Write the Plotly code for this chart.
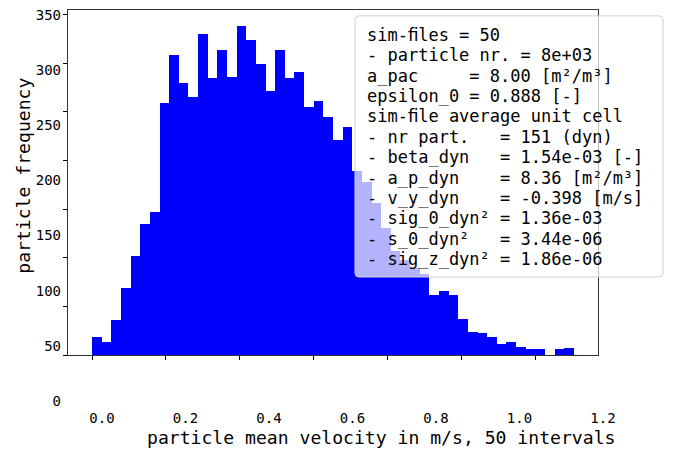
import numpy as np
import plotly.graph_objects as go

# ---------------- data ----------------
counts = [19, 14, 37, 70, 102, 135, 148, 259, 309, 280,
          266, 330, 285, 314, 286, 338, 324, 299, 272, 314,
          285, 291, 255, 262, 245, 221, 235, 190, 178, 157,
          131, 108, 98, 90, 84, 62, 66, 62, 38, 24,
          23, 19, 12, 14, 9, 7, 7, 0, 7, 8]
v_min, v_max = 0.0, 1.304
n_bins = 50
x_tick_vals = [0.0, 0.2, 0.4, 0.6, 0.8, 1.0, 1.2]
y_tick_vals = [0, 50, 100, 150, 200, 250, 300, 350]
x_title = "particle mean velocity in m/s, 50 intervals"
y_title = "particle frequency"
legend_lines = [
    "sim-ﬁles = 50",
    "- particle nr. = 8e+03",
    "a_pac     = 8.00 [m²/m³]",
    "epsilon_0 = 0.888 [-]",
    "sim-ﬁle average unit cell",
    "- nr part.   = 151 (dyn)",
    "- beta_dyn   = 1.54e-03 [-]",
    "- a_p_dyn    = 8.36 [m²/m³]",
    "- v_y_dyn    = -0.398 [m/s]",
    "- sig_0_dyn² = 1.36e-03",
    "- s_0_dyn²   = 3.44e-06",
    "- sig_z_dyn² = 1.86e-06",
]

edges = np.linspace(v_min, v_max, n_bins + 1)
centers = (edges[:-1] + edges[1:]) / 2
bw = edges[1] - edges[0]
span = v_max - v_min

# ---------------- layout helpers (pixels -> paper) ----------------
W, H = 680, 453
ML, MR, MT, MB = 40, 40, 0, 40
PW, PH = W - ML - MR, H - MT - MB

def fx(px):
    return (px - ML) / PW

def fy(py):
    return (H - MB - py) / PH

FONT = "DejaVu Sans Mono"

fig = go.Figure()
fig.add_trace(go.Bar(x=centers, y=counts, width=bw,
                     marker=dict(color="#0000ff", line=dict(width=0)),
                     showlegend=False, hoverinfo="skip"))
# invisible trace carrying the label axes
fig.add_trace(go.Scatter(x=[None], y=[None], xaxis="x2", yaxis="y2",
                         showlegend=False, hoverinfo="skip"))

# label axes (displaced tick labels)
ax = (603 - 102) / (x_tick_vals[-1] - x_tick_vals[0])
x2_range = [-0.02, 1.22]
x2_dom = [fx(102 + (x2_range[0] - x_tick_vals[0]) * ax),
          fx(102 + (x2_range[1] - x_tick_vals[0]) * ax)]
by = (401 - 12) / (y_tick_vals[-1] - y_tick_vals[0])
y2_range = [-5, 355]
y2_dom = [fy(401 + (y_tick_vals[0] - y2_range[0]) * by),
          fy(12 - (y2_range[1] - y_tick_vals[-1]) * by)]

# legend box (rounded rectangle) in paper coords
bx0, by0, bx1, by1, r = fx(355), fy(276), fx(663), fy(13), 4
rx, ry = r / PW, r / PH
box_path = (f"M {bx0+rx},{by0} L {bx1-rx},{by0} Q {bx1},{by0} {bx1},{by0+ry} "
            f"L {bx1},{by1-ry} Q {bx1},{by1} {bx1-rx},{by1} "
            f"L {bx0+rx},{by1} Q {bx0},{by1} {bx0},{by1-ry} "
            f"L {bx0},{by0+ry} Q {bx0},{by0} {bx0+rx},{by0} Z")

annotations = [
    dict(text=x_title, xref="paper", yref="paper",
         x=fx(380.5), y=fy(438), xanchor="center", yanchor="middle",
         showarrow=False, font=dict(family=FONT, size=18.1, color="black")),
    dict(text=y_title, xref="paper", yref="paper",
         x=fx(24), y=fy(174), xanchor="center", yanchor="middle",
         textangle=-90,
         showarrow=False, font=dict(family=FONT, size=18.1, color="black")),
]
for i, line in enumerate(legend_lines):
    annotations.append(dict(
        text=line.replace(" ", "\u00a0"), xref="paper", yref="paper",
        x=fx(365), y=fy(32 + 20.55 * i), xanchor="left", yanchor="middle",
        align="left", showarrow=False,
        font=dict(family=FONT, size=17, color="black")))

fig.update_layout(
    width=W, height=H,
    margin=dict(l=ML, r=MR, t=MT, b=MB),
    paper_bgcolor="white", plot_bgcolor="rgba(0,0,0,0)",
    bargap=0,
    xaxis=dict(domain=[fx(68), fx(598)],
               range=[v_min - 0.05 * span, v_max + 0.05 * span],
               tickvals=x_tick_vals, ticks="outside", ticklen=4,
               tickcolor="black", showticklabels=False,
               showgrid=False, zeroline=False,
               showline=True, linecolor="#333", linewidth=1, mirror=True),
    yaxis=dict(domain=[fy(355), fy(6.7)],
               range=[0, 1.05 * max(counts)],
               tickvals=y_tick_vals, ticks="outside", ticklen=4,
               tickcolor="black", showticklabels=False,
               showgrid=False, zeroline=False,
               showline=True, linecolor="#333", linewidth=1, mirror=True),
    xaxis2=dict(domain=x2_dom, range=x2_range, anchor="free",
                position=fy(408), tickvals=x_tick_vals, tickformat=".1f",
                ticks="", showline=False, showgrid=False, zeroline=False,
                tickfont=dict(family=FONT, size=14, color="black")),
    yaxis2=dict(domain=y2_dom, range=y2_range, anchor="free",
                position=fx(61), tickvals=y_tick_vals,
                ticks="", showline=False, showgrid=False, zeroline=False,
                tickfont=dict(family=FONT, size=14, color="black")),
    shapes=[dict(type="path", path=box_path, xref="paper", yref="paper",
                 fillcolor="rgba(255,255,255,0.7)",
                 line=dict(color="#d0d0d0", width=1), layer="above")],
    annotations=annotations,
)

fig.write_html("out.html")
